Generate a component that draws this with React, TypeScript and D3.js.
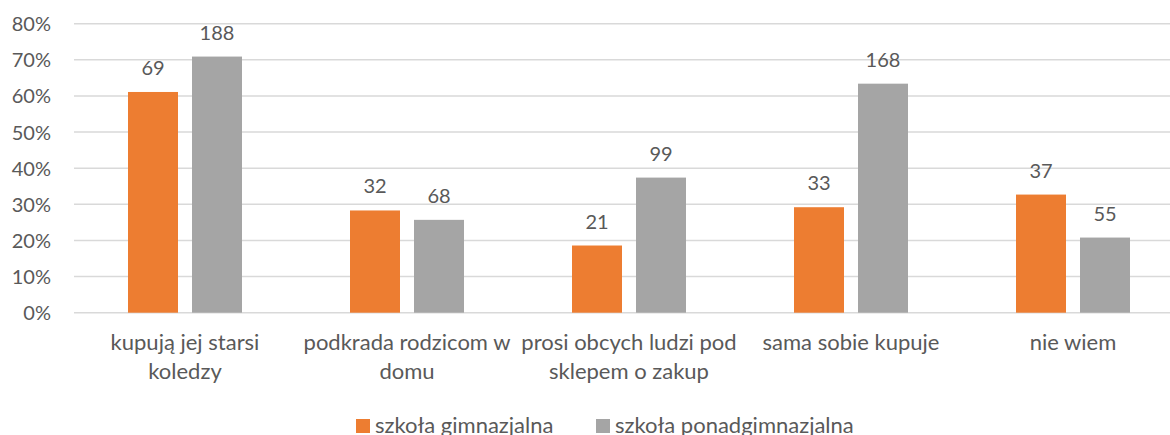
import React from 'react';
import * as d3 from 'd3';

const categories = ['kupują jej starsi koledzy', 'podkrada rodzicom w domu', 'prosi obcych ludzi pod sklepem o zakup', 'sama sobie kupuje', 'nie wiem'];
const categoryLines = [
  ['kupują jej starsi', 'koledzy'],
  ['podkrada rodzicom w', 'domu'],
  ['prosi obcych ludzi pod', 'sklepem o zakup'],
  ['sama sobie kupuje'],
  ['nie wiem'],
];
const seriesNames = ['szkoła gimnazjalna', 'szkoła ponadgimnazjalna'];
const seriesColors = ['#ED7D31', '#A5A5A5'];
// bar heights (percent)
const gimPct = [61.1, 28.3, 18.6, 29.2, 32.7];
const ponadPct = [70.9, 25.7, 37.4, 63.4, 20.8];
// data labels (counts)
const gimCount = [69, 32, 21, 33, 37];
const ponadCount = [188, 68, 99, 168, 55];
const yTicks = [0, 10, 20, 30, 40, 50, 60, 70, 80];

const W = 1170;
const H = 435;
const FONT = 'Lato, "Open Sans", sans-serif';
const TEXT = '#595959';

export default function App() {
  const x = d3.scaleBand<string>().domain(categories).range([74, 1184]);
  const y = d3.scaleLinear().domain([0, 80]).range([312.7, 23.7]);
  const x1 = d3.scaleBand<number>().domain([0, 1]).range([54, 168]).paddingInner(0.21875);

  const series = [
    { pct: gimPct, count: gimCount },
    { pct: ponadPct, count: ponadCount },
  ];

  return (
    <div style={{ position: 'absolute', left: 0, top: 0 }}>
      <svg width={W} height={H} style={{ display: 'block', background: '#fff' }}>
        <g>
          {yTicks.map((t) => (
            <g key={t}>
              <line x1={74} x2={W} y1={y(t)} y2={y(t)} stroke="#D9D9D9" strokeWidth={1.5} />
              <text x={51} y={y(t) + 7.5} textAnchor="end" fontFamily={FONT} fontSize={20} fill={TEXT}>
                {t}%
              </text>
            </g>
          ))}
        </g>
        {categories.map((c, i) => (
          <g key={c} transform={`translate(${x(c)},0)`}>
            {series.map((s, k) => {
              const bx = x1(k)!;
              const top = y(s.pct[i]);
              return (
                <g key={k}>
                  <rect x={bx} y={top} width={x1.bandwidth()} height={y(0) - top} fill={seriesColors[k]} />
                  <text x={bx + x1.bandwidth() / 2} y={top - 17} textAnchor="middle" fontFamily={FONT} fontSize={20} fill={TEXT}>
                    {s.count[i]}
                  </text>
                </g>
              );
            })}
            {categoryLines[i].map((ln, j) => (
              <text key={j} x={x.bandwidth() / 2} y={350 + j * 29} textAnchor="middle" fontFamily={FONT} fontSize={22} fill={TEXT}>
                {ln}
              </text>
            ))}
          </g>
        ))}
        <g>
          {seriesNames.map((n, k) => {
            const lx = [356, 596][k];
            return (
              <g key={n}>
                <rect x={lx} y={419} width={14} height={14} fill={seriesColors[k]} />
                <text x={lx + 19} y={433} fontFamily={FONT} fontSize={22} fill={TEXT}>
                  {n}
                </text>
              </g>
            );
          })}
        </g>
      </svg>
    </div>
  );
}
